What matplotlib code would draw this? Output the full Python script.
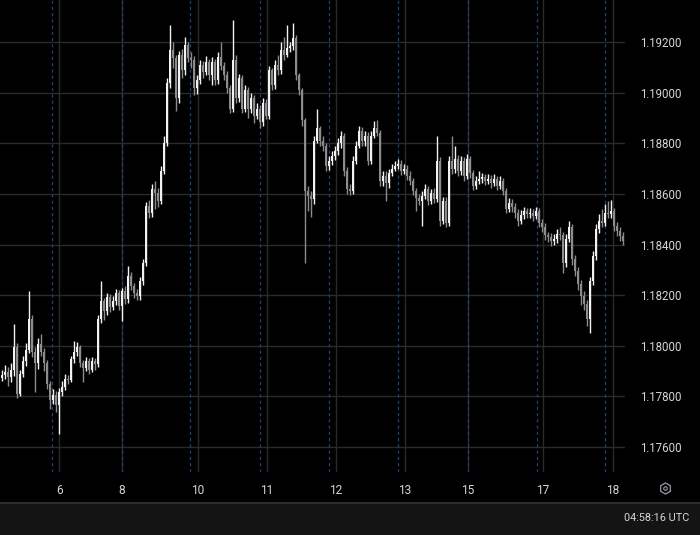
import numpy as np
import matplotlib.pyplot as plt
from matplotlib.patches import Rectangle
from matplotlib.lines import Line2D

plt.rcParams["font.family"] = ["Roboto", "DejaVu Sans"]

# OHLC candles (one per column, left to right)
opens = [
    1.17874, 1.17886, 1.17898, 1.17878, 1.17906, 1.17997, 1.17811, 1.17890, 1.17938, 1.17985,
    1.18105, 1.17977, 1.17930, 1.18009, 1.17977, 1.17930, 1.17850, 1.17787, 1.17807, 1.17767,
    1.17819, 1.17839, 1.17870, 1.17866, 1.17946, 1.17977, 1.17997, 1.17930, 1.17914, 1.17938,
    1.17906, 1.17938, 1.17926, 1.18105, 1.18176, 1.18136, 1.18192, 1.18152, 1.18176, 1.18208,
    1.18156, 1.18216, 1.18184, 1.18275, 1.18236, 1.18208, 1.18196, 1.18255, 1.18327, 1.18553,
    1.18525, 1.18621, 1.18605, 1.18573, 1.18692, 1.18803, 1.19037, 1.19168, 1.19137, 1.18978,
    1.19149, 1.19089, 1.19188, 1.19137, 1.19129, 1.19018, 1.19049, 1.19109, 1.19081, 1.19121,
    1.19069, 1.19121, 1.19049, 1.19141, 1.19105, 1.19069, 1.19018, 1.18938, 1.19129, 1.18978,
    1.19057, 1.18938, 1.19010, 1.18938, 1.18978, 1.18910, 1.18938, 1.18883, 1.18958, 1.18910,
    1.19089, 1.19030, 1.19109, 1.19089, 1.19168, 1.19149, 1.19176, 1.19184, 1.19216, 1.19069,
    1.19010, 1.18891, 1.18613, 1.18593, 1.18581, 1.18811, 1.18859, 1.18811, 1.18791, 1.18712,
    1.18732, 1.18752, 1.18771, 1.18803, 1.18831, 1.18692, 1.18621, 1.18613, 1.18732, 1.18791,
    1.18851, 1.18811, 1.18831, 1.18732, 1.18831, 1.18859, 1.18843, 1.18652, 1.18672, 1.18644,
    1.18684, 1.18700, 1.18712, 1.18720, 1.18692, 1.18700, 1.18672, 1.18652, 1.18613, 1.18585,
    1.18573, 1.18593, 1.18621, 1.18573, 1.18605, 1.18581, 1.18732, 1.18494, 1.18573, 1.18486,
    1.18732, 1.18700, 1.18740, 1.18692, 1.18732, 1.18672, 1.18740, 1.18684, 1.18633, 1.18652,
    1.18660, 1.18668, 1.18652, 1.18660, 1.18644, 1.18660, 1.18633, 1.18652, 1.18613, 1.18541,
    1.18565, 1.18549, 1.18525, 1.18494, 1.18517, 1.18533, 1.18521, 1.18525, 1.18513, 1.18533,
    1.18486, 1.18470, 1.18438, 1.18430, 1.18414, 1.18422, 1.18442, 1.18438, 1.18327, 1.18422,
    1.18470, 1.18343, 1.18295, 1.18243, 1.18196, 1.18164, 1.18105, 1.18255, 1.18355, 1.18462,
    1.18494, 1.18486, 1.18525, 1.18521, 1.18533, 1.18474, 1.18454, 1.18434,
]
highs = [
    1.17905, 1.17925, 1.17915, 1.17930, 1.18085, 1.18010, 1.17905, 1.17960, 1.18010, 1.18216,
    1.18120, 1.17995, 1.18030, 1.18045, 1.17990, 1.17945, 1.17860, 1.17830, 1.17820, 1.17835,
    1.17860, 1.17890, 1.17885, 1.17960, 1.18017, 1.18015, 1.18005, 1.17945, 1.17955, 1.17950,
    1.17955, 1.17950, 1.18120, 1.18255, 1.18190, 1.18210, 1.18205, 1.18195, 1.18225, 1.18220,
    1.18230, 1.18235, 1.18315, 1.18290, 1.18250, 1.18225, 1.18270, 1.18345, 1.18570, 1.18575,
    1.18640, 1.18650, 1.18625, 1.18710, 1.18830, 1.19060, 1.19268, 1.19200, 1.19150, 1.19165,
    1.19175, 1.19220, 1.19200, 1.19160, 1.19145, 1.19070, 1.19130, 1.19125, 1.19145, 1.19135,
    1.19140, 1.19135, 1.19160, 1.19200, 1.19120, 1.19085, 1.19030, 1.19288, 1.19150, 1.19075,
    1.19070, 1.19030, 1.19025, 1.19000, 1.18990, 1.18960, 1.18950, 1.18980, 1.18975, 1.19105,
    1.19100, 1.19130, 1.19150, 1.19200, 1.19220, 1.19268, 1.19200, 1.19276, 1.19230, 1.19080,
    1.19020, 1.18900, 1.18630, 1.18610, 1.18830, 1.18938, 1.18870, 1.18830, 1.18800, 1.18750,
    1.18770, 1.18790, 1.18820, 1.18850, 1.18840, 1.18705, 1.18640, 1.18750, 1.18810, 1.18870,
    1.18865, 1.18850, 1.18845, 1.18850, 1.18890, 1.18891, 1.18855, 1.18690, 1.18690, 1.18700,
    1.18720, 1.18730, 1.18740, 1.18735, 1.18720, 1.18715, 1.18690, 1.18665, 1.18625, 1.18600,
    1.18610, 1.18640, 1.18630, 1.18620, 1.18625, 1.18831, 1.18745, 1.18590, 1.18590, 1.18750,
    1.18831, 1.18790, 1.18755, 1.18750, 1.18745, 1.18760, 1.18750, 1.18695, 1.18670, 1.18690,
    1.18685, 1.18680, 1.18680, 1.18675, 1.18680, 1.18670, 1.18670, 1.18665, 1.18625, 1.18585,
    1.18580, 1.18565, 1.18540, 1.18535, 1.18550, 1.18545, 1.18545, 1.18540, 1.18550, 1.18545,
    1.18500, 1.18485, 1.18450, 1.18445, 1.18440, 1.18460, 1.18470, 1.18450, 1.18440, 1.18494,
    1.18480, 1.18360, 1.18310, 1.18260, 1.18215, 1.18180, 1.18270, 1.18375, 1.18480, 1.18520,
    1.18540, 1.18560, 1.18573, 1.18577, 1.18545, 1.18490, 1.18470, 1.18450,
]
lows = [
    1.17860, 1.17870, 1.17840, 1.17855, 1.17880, 1.17795, 1.17800, 1.17875, 1.17920, 1.17970,
    1.17955, 1.17819, 1.17910, 1.17960, 1.17900, 1.17830, 1.17751, 1.17770, 1.17740, 1.17652,
    1.17800, 1.17825, 1.17850, 1.17855, 1.17930, 1.17960, 1.17915, 1.17858, 1.17900, 1.17890,
    1.17895, 1.17905, 1.17915, 1.18090, 1.18100, 1.18120, 1.18135, 1.18140, 1.18160, 1.18140,
    1.18097, 1.18165, 1.18170, 1.18220, 1.18190, 1.18180, 1.18180, 1.18240, 1.18315, 1.18505,
    1.18510, 1.18540, 1.18550, 1.18560, 1.18680, 1.18790, 1.19020, 1.19100, 1.18930, 1.18960,
    1.19060, 1.19070, 1.19120, 1.19100, 1.18990, 1.18995, 1.19035, 1.19060, 1.19070, 1.19050,
    1.19030, 1.19030, 1.19035, 1.19090, 1.19050, 1.19000, 1.18920, 1.18925, 1.18960, 1.18965,
    1.18920, 1.18925, 1.18900, 1.18920, 1.18880, 1.18895, 1.18860, 1.18870, 1.18895, 1.18895,
    1.19010, 1.19015, 1.19070, 1.19075, 1.19130, 1.19140, 1.19160, 1.19170, 1.19050, 1.18990,
    1.18870, 1.18327, 1.18533, 1.18510, 1.18560, 1.18800, 1.18790, 1.18770, 1.18690, 1.18695,
    1.18715, 1.18735, 1.18755, 1.18780, 1.18670, 1.18600, 1.18595, 1.18600, 1.18720, 1.18780,
    1.18790, 1.18790, 1.18715, 1.18720, 1.18820, 1.18830, 1.18630, 1.18630, 1.18573, 1.18625,
    1.18670, 1.18690, 1.18700, 1.18675, 1.18680, 1.18655, 1.18635, 1.18595, 1.18533, 1.18555,
    1.18474, 1.18580, 1.18555, 1.18560, 1.18565, 1.18570, 1.18474, 1.18480, 1.18470, 1.18474,
    1.18680, 1.18685, 1.18670, 1.18675, 1.18650, 1.18660, 1.18665, 1.18615, 1.18620, 1.18640,
    1.18645, 1.18635, 1.18640, 1.18625, 1.18630, 1.18615, 1.18620, 1.18595, 1.18525, 1.18530,
    1.18530, 1.18505, 1.18475, 1.18480, 1.18500, 1.18505, 1.18505, 1.18495, 1.18500, 1.18470,
    1.18450, 1.18420, 1.18410, 1.18395, 1.18400, 1.18405, 1.18420, 1.18287, 1.18310, 1.18410,
    1.18320, 1.18275, 1.18220, 1.18160, 1.18140, 1.18080, 1.18049, 1.18240, 1.18340, 1.18445,
    1.18470, 1.18475, 1.18505, 1.18505, 1.18455, 1.18435, 1.18415, 1.18400,
]
closes = [
    1.17886, 1.17898, 1.17878, 1.17906, 1.17997, 1.17811, 1.17890, 1.17938, 1.17985, 1.18105,
    1.17977, 1.17930, 1.18009, 1.17977, 1.17930, 1.17850, 1.17787, 1.17807, 1.17767, 1.17819,
    1.17839, 1.17870, 1.17866, 1.17946, 1.17977, 1.17997, 1.17930, 1.17914, 1.17938, 1.17906,
    1.17938, 1.17926, 1.18105, 1.18176, 1.18136, 1.18192, 1.18152, 1.18176, 1.18208, 1.18156,
    1.18216, 1.18184, 1.18275, 1.18236, 1.18208, 1.18196, 1.18255, 1.18327, 1.18553, 1.18525,
    1.18621, 1.18605, 1.18573, 1.18692, 1.18803, 1.19037, 1.19168, 1.19137, 1.18978, 1.19149,
    1.19089, 1.19188, 1.19137, 1.19129, 1.19018, 1.19049, 1.19109, 1.19081, 1.19121, 1.19069,
    1.19121, 1.19049, 1.19141, 1.19105, 1.19069, 1.19018, 1.18938, 1.19129, 1.18978, 1.19057,
    1.18938, 1.19010, 1.18938, 1.18978, 1.18910, 1.18938, 1.18883, 1.18958, 1.18910, 1.19089,
    1.19030, 1.19109, 1.19089, 1.19168, 1.19149, 1.19176, 1.19184, 1.19216, 1.19069, 1.19010,
    1.18891, 1.18613, 1.18593, 1.18581, 1.18811, 1.18859, 1.18811, 1.18791, 1.18712, 1.18732,
    1.18752, 1.18771, 1.18803, 1.18831, 1.18692, 1.18621, 1.18613, 1.18732, 1.18791, 1.18851,
    1.18811, 1.18831, 1.18732, 1.18831, 1.18859, 1.18843, 1.18652, 1.18672, 1.18644, 1.18684,
    1.18700, 1.18712, 1.18720, 1.18692, 1.18700, 1.18672, 1.18652, 1.18613, 1.18585, 1.18573,
    1.18593, 1.18621, 1.18573, 1.18605, 1.18581, 1.18732, 1.18494, 1.18573, 1.18486, 1.18732,
    1.18700, 1.18740, 1.18692, 1.18732, 1.18672, 1.18740, 1.18684, 1.18633, 1.18652, 1.18660,
    1.18668, 1.18652, 1.18660, 1.18644, 1.18660, 1.18633, 1.18652, 1.18613, 1.18541, 1.18565,
    1.18549, 1.18525, 1.18494, 1.18517, 1.18533, 1.18521, 1.18525, 1.18513, 1.18533, 1.18486,
    1.18470, 1.18438, 1.18430, 1.18414, 1.18422, 1.18442, 1.18438, 1.18327, 1.18422, 1.18470,
    1.18343, 1.18295, 1.18243, 1.18196, 1.18164, 1.18105, 1.18255, 1.18355, 1.18462, 1.18494,
    1.18486, 1.18525, 1.18521, 1.18533, 1.18474, 1.18454, 1.18434, 1.18414,
]

price_levels = [1.176, 1.178, 1.180, 1.182, 1.184, 1.186, 1.188, 1.190, 1.192]
day_labels = ["6", "8", "10", "11", "12", "13", "15", "17", "18"]
clock_text = "04:58:16 UTC"

# where the day labels and session breaks sit, in candle index units
day_pos = [19.2, 40.2, 65.5, 88.5, 111.5, 134.5, 155.5, 180.5, 203.7]
session_pos = [16.8, 40.2, 62.8, 86.2, 109.2, 132.2, 155.5, 178.5, 201.2]

UP = "#f2f2f2"
DOWN = "#8c8c8c"
GRID = "#2a2a2a"
TEXT = "#d6d6d6"
W, H = 700, 535

o = np.array(opens)
h = np.array(highs)
l = np.array(lows)
c = np.array(closes)
idx = np.arange(len(c))
col = np.where(c >= o, UP, DOWN)

fig = plt.figure(figsize=(W / 100, H / 100), dpi=100, facecolor="black")
ax = fig.add_axes([0, (H - 472) / H, 625 / W, 472 / H])
ax.set_facecolor("black")

for p in price_levels:
    ax.axhline(p, color=GRID, lw=1, zorder=0)
for p in day_pos:
    ax.axvline(p, color=GRID, lw=1, zorder=0)
for p in session_pos:
    ax.axvline(p, color="#22427a", lw=0.9, ls=(0, (2.5, 2.5)), zorder=1)

ax.vlines(idx, l, h, colors=col, lw=1, zorder=2)
body = np.maximum(np.abs(c - o), 0.00004)
ax.bar(idx, body, bottom=np.minimum(o, c), width=0.66, color=col, lw=0, zorder=3)

ax.set_xlim(-0.5, 207.8)
ax.set_ylim(1.17501, 1.19367)

ax.yaxis.tick_right()
ax.set_yticks(price_levels)
ax.set_yticklabels([f"{p:.5f}" for p in price_levels])
ax.set_xticks(day_pos)
ax.set_xticklabels(day_labels)
ax.tick_params(axis="y", length=0, pad=11, labelsize=8.3, colors=TEXT)
ax.tick_params(axis="x", length=0, pad=9, labelsize=8.6, colors=TEXT)
for s in ax.spines.values():
    s.set_visible(False)

# bottom status bar
fig.patches.append(Rectangle((0, 0), 1, (H - 503) / H, transform=fig.transFigure,
                             facecolor="#141414", edgecolor="none", zorder=0))
fig.add_artist(Line2D([0, 1], [(H - 503) / H] * 2, color="#2e2e2e", lw=1.5))
fig.text(689 / W, 1 - 518 / H, clock_text, ha="right", va="center",
         fontsize=7.8, color=TEXT)

# settings icon next to the time axis
fig.add_artist(Line2D([665 / W], [1 - 488 / H], marker="h", markersize=8,
                      mfc="none", mec="#9a9da6", mew=0.9, ls="none"))
fig.add_artist(Line2D([665 / W], [1 - 488 / H], marker="o", markersize=2.5,
                      mfc="none", mec="#9a9da6", mew=0.8, ls="none"))

fig.savefig("out.png", dpi=100, facecolor="black")
